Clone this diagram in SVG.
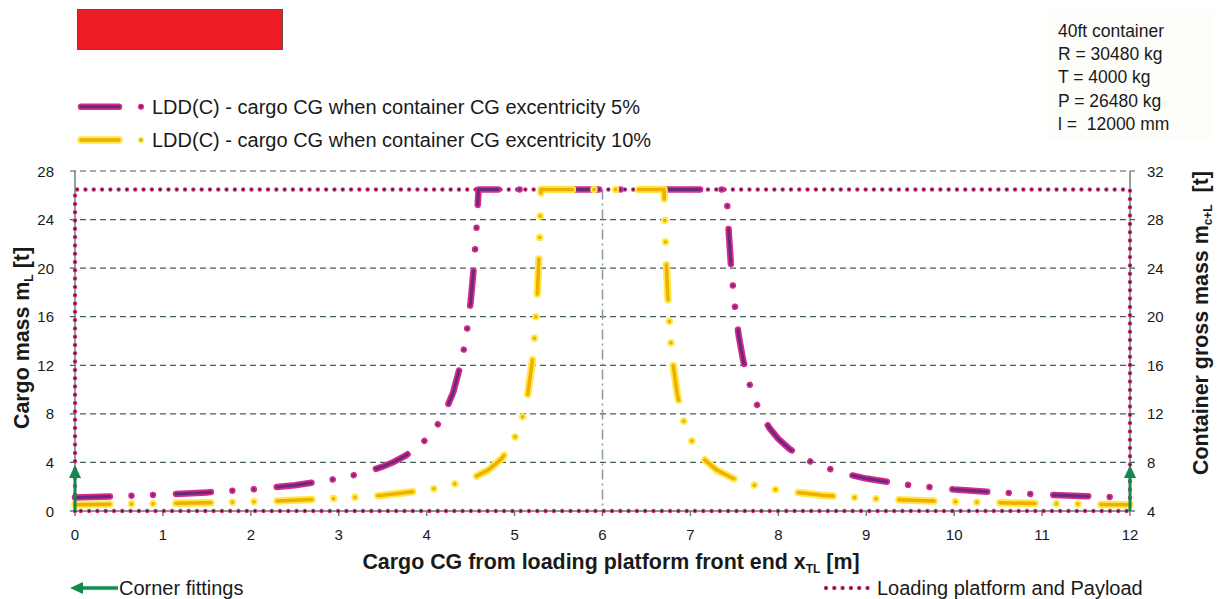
<svg xmlns="http://www.w3.org/2000/svg" width="1217" height="599" viewBox="0 0 1217 599">
<style>
text{font-family:"Liberation Sans",Arial,sans-serif;fill:#1a1a1a}
.tick{font-size:15px}
.ttl{font-size:21.4px;font-weight:bold}
.leg{font-size:20px}
.info{font-size:17.5px}
.grid{stroke:#465E5C;stroke-width:1.2;stroke-dasharray:6 4;fill:none}
.axis{stroke:#5E7D74;stroke-width:1.4;fill:none}
.ser{fill:none;stroke-linecap:round;stroke-linejoin:round;stroke-dasharray:35 21.5 0.01 21.5 0.01 23}
.po{stroke:#D92A8C;stroke-width:6.5}
.pi{stroke:#6A2A7C;stroke-width:3}
.yo{stroke:#FFE94A;stroke-width:7.5}
.yi{stroke:#F0AE00;stroke-width:3.5}
.dots-o{fill:none;stroke:#E2367E;stroke-width:4.5;stroke-linecap:round;stroke-dasharray:0 8.3}
.dots-i{fill:none;stroke:#3A2346;stroke-width:2.4;stroke-linecap:round;stroke-dasharray:0 8.3}
.green{stroke:#15894C;stroke-width:3;fill:none}
.center{stroke:#8A9898;stroke-width:1.5;stroke-dasharray:10 4 2 4;fill:none}
</style>
<defs>
<marker id="ah" markerUnits="userSpaceOnUse" markerWidth="13" markerHeight="12" refX="0" refY="6" orient="auto">
<path d="M0,0 L13,6 L0,12 Z" fill="#15894C"/>
</marker>
</defs>
<rect width="1217" height="599" fill="#ffffff"/>

<g id="title-block">
<rect x="77.5" y="9.5" width="205" height="40" fill="#ED1C24" stroke="#6b4a4a" stroke-width="1"/>
</g>

<g id="legend-series">
<path class="po" d="M81,106.7 H119" stroke-linecap="round" fill="none"/>
<path class="pi" d="M81,106.7 H119" stroke-linecap="round" fill="none"/>
<circle cx="141" cy="106.7" r="3" fill="#D92A8C"/>
<circle cx="141" cy="106.7" r="1.6" fill="#6A2A7C"/>
<text class="leg" x="152" y="114">LDD(C) - cargo CG when container CG excentricity 5%</text>
<path class="yo" d="M81,140 H119" stroke-linecap="round" fill="none"/>
<path class="yi" d="M81,140 H119" stroke-linecap="round" fill="none"/>
<circle cx="141" cy="140" r="3" fill="#FFE94A"/>
<circle cx="141" cy="140" r="1.4" fill="#C8A000"/>
<text class="leg" x="152" y="147">LDD(C) - cargo CG when container CG excentricity 10%</text>
</g>

<g id="info-box">
<rect x="1046" y="10" width="166" height="130" fill="#FDFDFA"/>
<text class="info" x="1058" y="36.5">40ft container</text>
<text class="info" x="1058" y="60">R = 30480 kg</text>
<text class="info" x="1058" y="83">T = 4000 kg</text>
<text class="info" x="1058" y="106.5">P = 26480 kg</text>
<text class="info" x="1058" y="129.5">l = &#160;12000 mm</text>
</g>

<g id="grid">
<path class="grid" d="M70,171 H1135 M70,219.57 H1135 M70,268.14 H1135 M70,316.71 H1135 M70,365.29 H1135 M70,413.86 H1135 M70,462.43 H1135"/>
</g>

<g id="axes">
<path class="axis" d="M75,171 V511 M1130,171 V511 M70,511 H1135"/>
<path class="axis" d="M75,511 v5 M162.92,511 v5 M250.83,511 v5 M338.75,511 v5 M426.67,511 v5 M514.58,511 v5 M602.5,511 v5 M690.42,511 v5 M778.33,511 v5 M866.25,511 v5 M954.17,511 v5 M1042.08,511 v5 M1130,511 v5"/>
<g class="tick" text-anchor="end">
<text x="54" y="516.5">0</text>
<text x="54" y="467.9">4</text>
<text x="54" y="419.4">8</text>
<text x="54" y="370.8">12</text>
<text x="54" y="322.2">16</text>
<text x="54" y="273.6">20</text>
<text x="54" y="225.1">24</text>
<text x="54" y="176.5">28</text>
</g>
<g class="tick">
<text x="1147" y="516.5">4</text>
<text x="1147" y="467.9">8</text>
<text x="1147" y="419.4">12</text>
<text x="1147" y="370.8">16</text>
<text x="1147" y="322.2">20</text>
<text x="1147" y="273.6">24</text>
<text x="1147" y="225.1">28</text>
<text x="1147" y="176.5">32</text>
</g>
<g class="tick" text-anchor="middle">
<text x="75" y="540">0</text>
<text x="162.92" y="540">1</text>
<text x="250.83" y="540">2</text>
<text x="338.75" y="540">3</text>
<text x="426.67" y="540">4</text>
<text x="514.58" y="540">5</text>
<text x="602.5" y="540">6</text>
<text x="690.42" y="540">7</text>
<text x="778.33" y="540">8</text>
<text x="866.25" y="540">9</text>
<text x="954.17" y="540">10</text>
<text x="1042.08" y="540">11</text>
<text x="1130" y="540">12</text>
</g>
<text class="ttl" x="611" y="569" text-anchor="middle">Cargo CG from loading platform front end x<tspan font-size="12" dy="4">TL</tspan><tspan dy="-4"> [m]</tspan></text>
<text class="ttl" transform="translate(28.5,338) rotate(-90)" text-anchor="middle">Cargo mass m<tspan font-size="12" dy="4">L</tspan><tspan dy="-4"> [t]</tspan></text>
<text class="ttl" transform="translate(1208,323) rotate(-90)" text-anchor="middle">Container gross mass m<tspan font-size="12" dy="4">c+L</tspan><tspan dy="-4"> &#160;[t]</tspan></text>
</g>

<g id="connectors">
<path class="center" d="M602.5,189.5 V511"/>
<g id="platform-payload">
<path class="dots-o" d="M75,511 V189.45 H1130 V511 H75"/>
<path class="dots-i" d="M75,511 V189.45 H1130 V511 H75"/>
</g>
<g id="series-5">
<path class="ser po" d="M75,497.5 L118.96,496.2 L162.92,494.55 L206.88,492.4 L250.83,489.46 L294.79,485.22 L338.75,478.57 L360.73,473.59 L382.71,466.62 L393.7,461.98 L404.69,456.19 L415.68,448.74 L426.67,438.83 L435.46,428.18 L444.25,413.7 L453.04,392.85 L461.83,360.26 L466.23,335.95 L470.63,302.09 L474.14,263.68 L476.78,223.96 L478.54,189.45 L726.46,189.45 L728.22,223.96 L730.86,263.68 L734.37,302.09 L738.77,335.95 L743.17,360.26 L751.96,392.85 L760.75,413.7 L769.54,428.18 L778.33,438.83 L789.32,448.74 L800.31,456.19 L811.3,461.98 L822.29,466.62 L844.27,473.59 L866.25,478.57 L910.21,485.22 L954.17,489.46 L998.12,492.4 L1042.08,494.55 L1086.04,496.2 L1130,497.5"/>
<path class="ser pi" d="M75,497.5 L118.96,496.2 L162.92,494.55 L206.88,492.4 L250.83,489.46 L294.79,485.22 L338.75,478.57 L360.73,473.59 L382.71,466.62 L393.7,461.98 L404.69,456.19 L415.68,448.74 L426.67,438.83 L435.46,428.18 L444.25,413.7 L453.04,392.85 L461.83,360.26 L466.23,335.95 L470.63,302.09 L474.14,263.68 L476.78,223.96 L478.54,189.45 L726.46,189.45 L728.22,223.96 L730.86,263.68 L734.37,302.09 L738.77,335.95 L743.17,360.26 L751.96,392.85 L760.75,413.7 L769.54,428.18 L778.33,438.83 L789.32,448.74 L800.31,456.19 L811.3,461.98 L822.29,466.62 L844.27,473.59 L866.25,478.57 L910.21,485.22 L954.17,489.46 L998.12,492.4 L1042.08,494.55 L1086.04,496.2 L1130,497.5"/>
</g>
<g id="series-10">
<path class="ser yo" d="M75,504.73 L118.96,504.21 L162.92,503.58 L206.88,502.78 L250.83,501.74 L294.79,500.35 L338.75,498.37 L382.71,495.34 L426.67,490.13 L448.65,485.8 L470.63,479.03 L488.21,470.04 L501.4,458.9 L510.19,447.2 L518.98,428.51 L523.38,414.26 L527.77,393.94 L532.17,362.63 L534.81,334.14 L537.45,292 L539.21,250.51 L540.52,207.29 L540.96,189.45 L664.04,189.45 L664.48,207.29 L665.79,250.51 L667.55,292 L670.19,334.14 L672.83,362.63 L677.23,393.94 L681.62,414.26 L686.02,428.51 L694.81,447.2 L703.6,458.9 L716.79,470.04 L734.37,479.03 L756.35,485.8 L778.33,490.13 L822.29,495.34 L866.25,498.37 L910.21,500.35 L954.17,501.74 L998.12,502.78 L1042.08,503.58 L1086.04,504.21 L1130,504.73"/>
<path class="ser yi" d="M75,504.73 L118.96,504.21 L162.92,503.58 L206.88,502.78 L250.83,501.74 L294.79,500.35 L338.75,498.37 L382.71,495.34 L426.67,490.13 L448.65,485.8 L470.63,479.03 L488.21,470.04 L501.4,458.9 L510.19,447.2 L518.98,428.51 L523.38,414.26 L527.77,393.94 L532.17,362.63 L534.81,334.14 L537.45,292 L539.21,250.51 L540.52,207.29 L540.96,189.45 L664.04,189.45 L664.48,207.29 L665.79,250.51 L667.55,292 L670.19,334.14 L672.83,362.63 L677.23,393.94 L681.62,414.26 L686.02,428.51 L694.81,447.2 L703.6,458.9 L716.79,470.04 L734.37,479.03 L756.35,485.8 L778.33,490.13 L822.29,495.34 L866.25,498.37 L910.21,500.35 L954.17,501.74 L998.12,502.78 L1042.08,503.58 L1086.04,504.21 L1130,504.73"/>
</g>
<g id="corner-fittings">
<path class="green" d="M75,511 V478" marker-end="url(#ah)"/>
<path class="green" d="M1130,511 V478" marker-end="url(#ah)"/>
</g>
</g>

<g id="legend-bottom">
<path d="M118,588 H83" stroke="#8FCFC8" stroke-width="4.5" fill="none"/>
<path class="green" d="M118,588 H83" marker-end="url(#ah)"/>
<text class="leg" x="119" y="595">Corner fittings</text>
<path class="dots-o" d="M826,588 H870"/>
<path class="dots-i" d="M826,588 H870" stroke="#B0205F"/>
<text class="leg" x="877" y="595">Loading platform and Payload</text>
</g>
</svg>
